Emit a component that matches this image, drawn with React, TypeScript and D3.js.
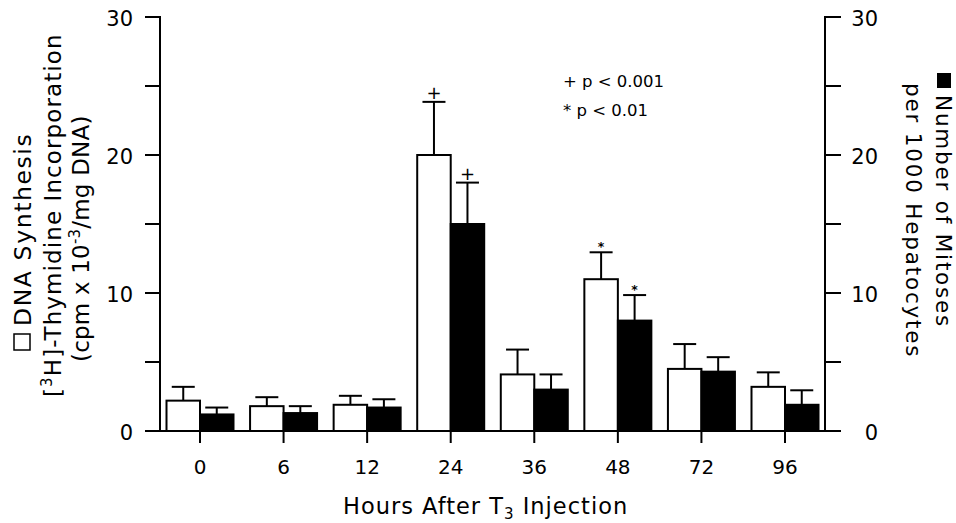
import React from "react";
import * as d3 from "d3";

const hours = ["0", "6", "12", "24", "36", "48", "72", "96"];
const dnaSynthesis = [2.2, 1.8, 1.9, 20.0, 4.1, 11.0, 4.5, 3.2];
const dnaSynthesisSE = [1.0, 0.65, 0.65, 3.85, 1.8, 1.95, 1.8, 1.05];
const mitoses = [1.2, 1.3, 1.7, 15.0, 3.0, 8.0, 4.3, 1.9];
const mitosesSE = [0.5, 0.5, 0.6, 3.0, 1.1, 1.85, 1.05, 1.05];
const dnaMarks = ["", "", "", "+", "", "*", "", ""];
const mitosisMarks = ["", "", "", "+", "", "*", "", ""];
const yTicks = [0, 5, 10, 15, 20, 25, 30];
const yLabels = [0, 10, 20, 30];
const legendLines = ["+ p < 0.001", "* p < 0.01"];

const W = 956;
const H = 523;
const FONT = "'DejaVu Sans', 'Liberation Sans', sans-serif";

export default function App() {
  const x = d3.scalePoint<string>().domain(hours).range([200, 785]);
  const y = d3.scaleLinear().domain([0, 30]).range([431, 17]);
  const axisL = 160;
  const axisR = 825;
  const barW = 33.5;
  const capW = 23;
  const sw = 2;

  const series = [
    { vals: dnaSynthesis, se: dnaSynthesisSE, marks: dnaMarks, fill: "#fff", off: -barW },
    { vals: mitoses, se: mitosesSE, marks: mitosisMarks, fill: "#000", off: 0 },
  ];

  return (
    <svg
      width={W}
      height={H}
      viewBox={`0 0 ${W} ${H}`}
      style={{ position: "absolute", left: 0, top: 0, background: "#fff", display: "block" }}
      fontFamily={FONT}
    >
      <rect x={0} y={0} width={W} height={H} fill="#fff" />

      {/* bars and error bars */}
      {series.map((s, si) =>
        hours.map((h, i) => {
          const cx = (x(h) as number) + s.off;
          const top = y(s.vals[i]);
          const errTop = y(s.vals[i] + s.se[i]);
          const mid = cx + barW / 2;
          return (
            <g key={`${si}-${h}`}>
              <line x1={mid} x2={mid} y1={top} y2={errTop} stroke="#000" strokeWidth={sw} />
              <line x1={mid - capW / 2} x2={mid + capW / 2} y1={errTop} y2={errTop} stroke="#000" strokeWidth={sw} />
              <rect x={cx} y={top} width={barW} height={y(0) - top} fill={s.fill} stroke="#000" strokeWidth={sw} />
              {s.marks[i] === "+" && (
                <text x={mid} y={errTop - 3} textAnchor="middle" fontSize={18} fill="#000">+</text>
              )}
              {s.marks[i] === "*" && (
                <text x={mid} y={errTop - 1.5} textAnchor="middle" fontSize={12.5} fontWeight="bold" fill="#000">*</text>
              )}
            </g>
          );
        })
      )}

      {/* left axis */}
      <line x1={axisL} x2={axisL} y1={y(30) - 1} y2={y(0)} stroke="#000" strokeWidth={sw} />
      {yTicks.map((t) => (
        <line key={`lt${t}`} x1={axisL - 15} x2={axisL} y1={y(t)} y2={y(t)} stroke="#000" strokeWidth={sw} />
      ))}
      {yLabels.map((t) => (
        <text key={`ll${t}`} x={133} y={y(t) + 8.5} textAnchor="end" fontSize={21} fill="#000">{t}</text>
      ))}

      {/* right axis */}
      <line x1={axisR} x2={axisR} y1={y(30) - 1} y2={y(0)} stroke="#000" strokeWidth={sw} />
      {yTicks.map((t) => (
        <line key={`rt${t}`} x1={axisR} x2={axisR + 16} y1={y(t)} y2={y(t)} stroke="#000" strokeWidth={sw} />
      ))}
      {yLabels.map((t) => (
        <text key={`rl${t}`} x={878} y={y(t) + 8.5} textAnchor="end" fontSize={21} fill="#000">{t}</text>
      ))}

      {/* bottom axis */}
      <line x1={axisL - 15} x2={axisR + 16} y1={y(0)} y2={y(0)} stroke="#000" strokeWidth={sw} />
      {hours.map((h) => (
        <g key={`xt${h}`}>
          <line x1={x(h)} x2={x(h)} y1={y(0)} y2={y(0) + 12} stroke="#000" strokeWidth={sw} />
          <text x={x(h)} y={474} textAnchor="middle" fontSize={20} fill="#000">{h}</text>
        </g>
      ))}

      {/* x title */}
      <text x={343} y={514} fontSize={22.5} letterSpacing={1} fill="#000">
        Hours After T<tspan fontSize={15} dy={5}>3</tspan><tspan dy={-5}> Injection</tspan>
      </text>

      {/* significance legend */}
      {legendLines.map((l, i) => (
        <text key={l} x={563} y={87 + i * 28.5} fontSize={16.5} fill="#000">{l}</text>
      ))}

      {/* left title */}
      <rect x={14} y={334} width={16} height={16} fill="#fff" stroke="#000" strokeWidth={1.5} />
      <text transform="translate(31,326) rotate(-90)" fontSize={23.5} letterSpacing={1.6} fill="#000">DNA Synthesis</text>
      <text transform="translate(61,397) rotate(-90)" fontSize={23} letterSpacing={1.1} fill="#000">
        [<tspan fontSize={15} dy={-9}>3</tspan><tspan dy={9}>H]-Thymidine Incorporation</tspan>
      </text>
      <text transform="translate(89,362) rotate(-90)" fontSize={23} letterSpacing={0.2} fill="#000">
        (cpm x 10<tspan fontSize={15} dy={-9}>-3</tspan><tspan dy={9}>/mg DNA)</tspan>
      </text>

      {/* right title */}
      <rect x={937} y={73} width={14} height={15} fill="#000" />
      <text transform="translate(936,95) rotate(90)" fontSize={21.5} letterSpacing={1.8} fill="#000">Number of Mitoses</text>
      <text transform="translate(906,83) rotate(90)" fontSize={21.5} letterSpacing={1.8} fill="#000">per 1000 Hepatocytes</text>
    </svg>
  );
}
